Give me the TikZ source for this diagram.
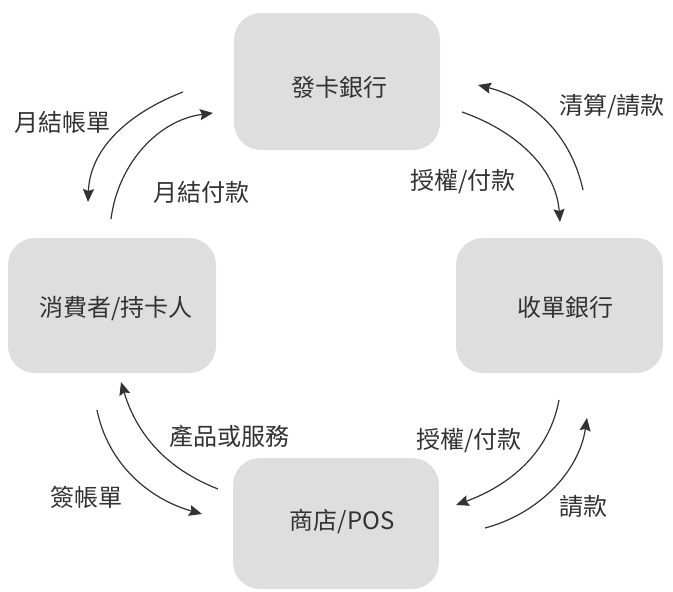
\documentclass[tikz,border=0pt]{standalone}
\usepackage{fontspec}
\setmainfont{Noto Sans CJK TC}
\usetikzlibrary{arrows.meta}
\definecolor{boxfill}{RGB}{221,222,221}
\definecolor{ink}{RGB}{50,50,50}
\begin{document}
\begin{tikzpicture}[x=1pt,y=-1pt,
  box/.style={fill=boxfill, rounded corners=27pt, inner sep=0pt},
  txt/.style={text=ink, font=\fontsize{24}{28}\selectfont, inner sep=0pt},
  arr/.style={draw=ink, line width=1.2pt, -{Stealth[length=13pt,width=11pt,inset=2pt]}}]
\useasboundingbox (0,0) rectangle (673,592);
% boxes
\node[box, minimum width=206pt, minimum height=137pt] (issuer) at (337,81.5) {};
\node[box, minimum width=208pt, minimum height=135pt] (consumer) at (112,305.5) {};
\node[box, minimum width=207pt, minimum height=135pt] (acquirer) at (559.5,305.5) {};
\node[box, minimum width=206pt, minimum height=131pt] (shop) at (336,523.5) {};
% box texts
\node[txt] (tissuer) at (339,87) {發卡銀行};
\node[txt] (tconsumer) at (116,309) {消費者/持卡人};
\node[txt] (tacquirer) at (565,307) {收單銀行};
\node[txt] (tshop) at (342,522) {商店/POS};
% arrow end points
\coordinate (a1s) at (183,92);  \coordinate (a1e) at (88,202);
\coordinate (a2s) at (111,219); \coordinate (a2e) at (213,113);
\coordinate (a3s) at (583,190); \coordinate (a3e) at (478,85);
\coordinate (a4s) at (462,112); \coordinate (a4e) at (560,222);
\coordinate (a5s) at (218,489); \coordinate (a5e) at (121,382);
\coordinate (a6s) at (97,410);  \coordinate (a6e) at (202,514);
\coordinate (a7s) at (559,400); \coordinate (a7e) at (456,505);
\coordinate (a8s) at (485,528); \coordinate (a8e) at (587,418);
% arrows
\draw[arr] (a1s) .. controls +(-52,20) and +(2,-55) .. (a1e);
\draw[arr] (a2s) .. controls +(7,-55) and +(-55,7) .. (a2e);
\draw[arr] (a3s) .. controls +(-12,-55) and +(55,14) .. (a3e);
\draw[arr] (a4s) .. controls +(52,18) and +(-4,-55) .. (a4e);
\draw[arr] (a5s) .. controls +(-51,-20) and +(16,53) .. (a5e);
\draw[arr] (a6s) .. controls +(11,54) and +(-53,-15) .. (a6e);
\draw[arr] (a7s) .. controls +(-10,54) and +(52,-19) .. (a7e);
\draw[arr] (a8s) .. controls +(53,-14) and +(-8,54) .. (a8e);
% labels
\node[txt] (l1) at (63,122) {月結帳單};
\node[txt] (l2) at (201,192) {月結付款};
\node[txt] (l3) at (612,107) {清算/請款};
\node[txt] (l4) at (463,182) {授權/付款};
\node[txt] (l5) at (229,436) {產品或服務};
\node[txt] (l6) at (86,497) {簽帳單};
\node[txt] (l7) at (469,441) {授權/付款};
\node[txt] (l8) at (583,507) {請款};
\end{tikzpicture}
\end{document}
